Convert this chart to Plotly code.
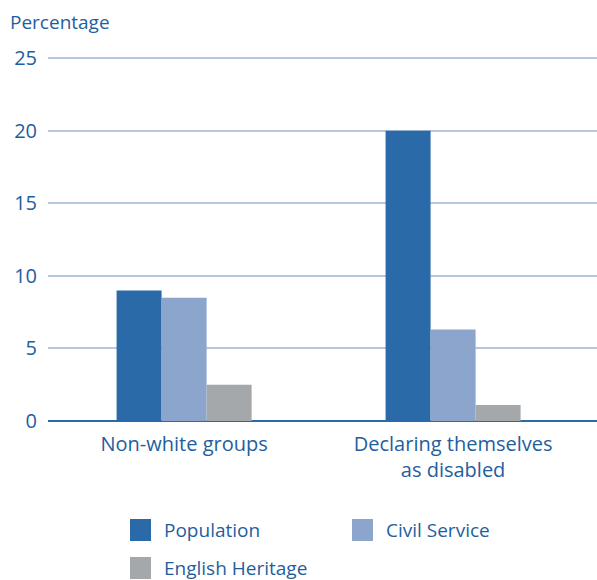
import plotly.graph_objects as go

categories = ["Non-white groups", "Declaring themselves<br>as disabled"]
population = [9.0, 20.0]
civil_service = [8.5, 6.3]
english_heritage = [2.5, 1.1]
y_ticks = [0, 5, 10, 15, 20, 25]

series = [
    ("Population", population, "#2A6AA8"),
    ("Civil Service", civil_service, "#8BA5CC"),
    ("English Heritage", english_heritage, "#A5A8AB"),
]

TEXT = "#1F5E9E"
FONT = "'Open Sans', Lato, sans-serif"

fig = go.Figure()
for name, vals, col in series:
    fig.add_trace(go.Bar(x=categories, y=vals, name=name, marker_color=col,
                         marker_line_width=0, showlegend=False))

# Paper-coordinate helpers (plot spans x 48..597, y 57..421 px)
def px_x(p):
    return (p - 48) / 549.0

def px_y(p):
    return (421 - p) / 364.0

# Hand-laid legend: squares plus labels beneath the plot
legend_items = [
    ("Population", "#2A6AA8", 130, 530),
    ("Civil Service", "#8BA5CC", 352, 530),
    ("English Heritage", "#A5A8AB", 130, 568),
]
for name, col, lx, ly in legend_items:
    fig.add_shape(type="rect", xref="paper", yref="paper",
                  x0=px_x(lx), x1=px_x(lx + 21), y0=px_y(ly + 11), y1=px_y(ly - 11),
                  fillcolor=col, line_width=0)
    fig.add_annotation(xref="paper", yref="paper", x=px_x(lx + 32), y=px_y(ly),
                       text=name, showarrow=False, xanchor="left", yanchor="middle",
                       font=dict(size=19, color=TEXT, family=FONT))

fig.add_annotation(xref="paper", yref="paper", x=px_x(8), y=px_y(22),
                   text="Percentage", showarrow=False, xanchor="left", yanchor="middle",
                   font=dict(size=19, color=TEXT, family=FONT))

fig.update_layout(
    width=597, height=580,
    margin=dict(l=48, r=0, t=57, b=159),
    paper_bgcolor="white", plot_bgcolor="white",
    barmode="group", bargap=0.498, bargroupgap=0,
    font=dict(family=FONT, color=TEXT, size=19),
    xaxis=dict(showgrid=False, showline=False, ticks="", zeroline=False,
               range=[-0.506, 1.535], ticklabelstandoff=9,
               tickfont=dict(size=20, color=TEXT)),
    yaxis=dict(range=[0, 25.08], tickvals=y_ticks, showgrid=True,
               gridcolor="#B7C7E0", gridwidth=1.5, zeroline=True,
               zerolinecolor="#2A6AA8", zerolinewidth=2,
               showline=False, ticks="", ticklabelstandoff=10,
               tickfont=dict(size=20, color=TEXT)),
)

fig.write_html("out.html")
